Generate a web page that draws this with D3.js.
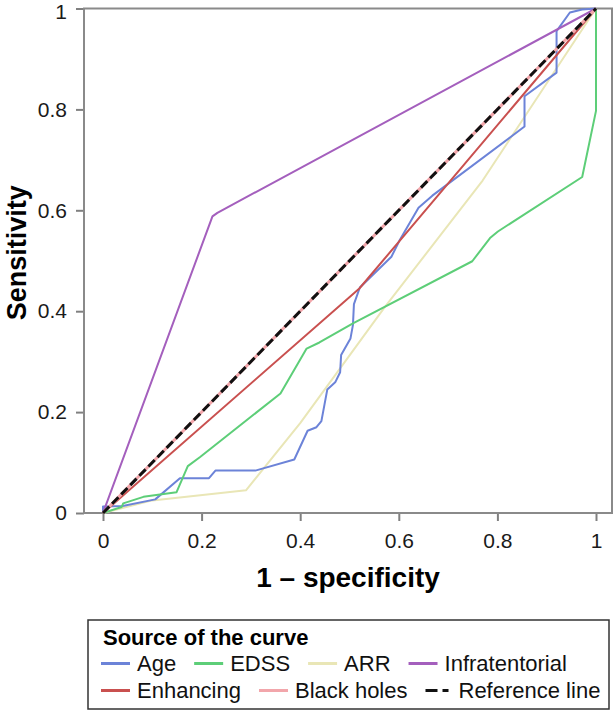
<!DOCTYPE html>
<html>
<head>
<meta charset="utf-8">
<script src="https://cdn.jsdelivr.net/npm/d3@7"></script>
<style>
  html, body { margin: 0; padding: 0; background: #fff; }
  svg { display: block; font-family: "Liberation Sans", Arial, sans-serif; }
</style>
</head>
<body>
<svg id="chart" width="616" height="713"></svg>
<script>
// ---- data ----
const xTickValues = [0, 0.2, 0.4, 0.6, 0.8, 1];
const xTickLabels = ["0", "0.2", "0.4", "0.6", "0.8", "1"];
const yTickValues = [0, 0.2, 0.4, 0.6, 0.8, 1];
const yTickLabels = ["0", "0.2", "0.4", "0.6", "0.8", "1"];

const seriesNames = ["Age", "EDSS", "ARR", "Infratentorial", "Enhancing", "Black holes", "Reference line"];
const seriesColors = ["#6c83d8", "#5dce78", "#e9e6b6", "#a45fbd", "#c9504f", "#f2a6ab", "#111111"];

const ageFPR  = [0, 0, 0.04, 0.106, 0.156, 0.215, 0.228, 0.309, 0.388, 0.415, 0.433, 0.443, 0.455, 0.471, 0.481, 0.483, 0.502, 0.507, 0.509, 0.521, 0.557, 0.585, 0.602, 0.640, 0.668, 0.855, 0.855, 0.920, 0.920, 0.947, 0.972, 1];
const ageTPR  = [0, 0.013, 0.014, 0.027, 0.069, 0.069, 0.084, 0.084, 0.106, 0.163, 0.170, 0.182, 0.245, 0.259, 0.279, 0.313, 0.346, 0.373, 0.414, 0.447, 0.481, 0.508, 0.541, 0.605, 0.629, 0.766, 0.826, 0.873, 0.955, 0.992, 0.998, 1];

const edssFPR = [0, 0.038, 0.041, 0.082, 0.149, 0.172, 0.197, 0.360, 0.413, 0.439, 0.507, 0.749, 0.785, 0.801, 0.972, 1.0, 1];
const edssTPR = [0, 0.012, 0.019, 0.032, 0.041, 0.093, 0.111, 0.237, 0.326, 0.338, 0.376, 0.499, 0.545, 0.558, 0.666, 0.797, 1];

const arrFPR  = [0, 0.1, 0.29, 0.40, 0.57, 0.77, 1];
const arrTPR  = [0, 0.025, 0.045, 0.178, 0.406, 0.659, 1];

const infraFPR = [0, 0.222, 0.232, 1];
const infraTPR = [0, 0.588, 0.595, 1];

const enhFPR  = [0, 0.52, 1];
const enhTPR  = [0, 0.445, 1];

const bhFPR   = [0, 1];
const bhTPR   = [0, 1];

const refFPR  = [0, 1];
const refTPR  = [0, 1];

// ---- layout ----
const svg = d3.select("#chart");
const frame = { left: 84, right: 612, top: 8.5, bottom: 513 };
const x = d3.scaleLinear().domain([0, 1]).range([103, 596]);
const y = d3.scaleLinear().domain([0, 1]).range([frame.bottom, frame.top]);

const zip = (a, b) => a.map((v, i) => [v, b[i]]);
const line = d3.line().x(d => x(d[0])).y(d => y(d[1]));

// axes
const xAxis = d3.axisBottom(x).tickValues(xTickValues)
  .tickFormat((d, i) => xTickLabels[i]).tickSize(8).tickSizeOuter(0).tickPadding(12);
const yAxis = d3.axisLeft(y).tickValues(yTickValues)
  .tickFormat((d, i) => yTickLabels[i]).tickSize(8).tickSizeOuter(0).tickPadding(9);

const gx = svg.append("g").attr("transform", `translate(0,${frame.bottom})`).call(xAxis);
const gy = svg.append("g").attr("transform", `translate(${frame.left},0)`).call(yAxis);
[gx, gy].forEach(g => {
  g.select(".domain").remove();
  g.selectAll(".tick line").attr("stroke", "#808080").attr("stroke-width", 2);
  g.selectAll(".tick text").attr("fill", "#1a1a1a").style("font-size", "21px")
    .style("font-family", '"Liberation Sans", Arial, sans-serif');
});
// keep the top "1" label inside the page
gy.selectAll(".tick text").filter(d => d === 1).attr("y", 3);

// frame
svg.append("rect")
  .attr("x", frame.left).attr("y", frame.top)
  .attr("width", frame.right - frame.left).attr("height", frame.bottom - frame.top)
  .attr("fill", "none").attr("stroke", "#8a8a8a").attr("stroke-width", 2);

// curves
const plotG = svg.append("g");
const curves = [
  { data: zip(arrFPR, arrTPR), c: 2, w: 2 },
  { data: zip(ageFPR, ageTPR), c: 0, w: 2 },
  { data: zip(edssFPR, edssTPR), c: 1, w: 2 },
  { data: zip(infraFPR, infraTPR), c: 3, w: 2 },
  { data: zip(enhFPR, enhTPR), c: 4, w: 2 },
  { data: zip(bhFPR, bhTPR), c: 5, w: 3 },
];
curves.forEach(s => {
  plotG.append("path").attr("d", line(s.data))
    .attr("fill", "none").attr("stroke", seriesColors[s.c])
    .attr("stroke-width", s.w).attr("stroke-linejoin", "round");
});
plotG.append("path").attr("d", line(zip(refFPR, refTPR)))
  .attr("fill", "none").attr("stroke", seriesColors[6])
  .attr("stroke-width", 3).attr("stroke-dasharray", "9,4");

// axis titles
svg.append("text").attr("x", (frame.left + frame.right) / 2).attr("y", 587)
  .attr("text-anchor", "middle").style("font-size", "28px").style("font-weight", "bold")
  .text("1 – specificity");
svg.append("text").attr("transform", `translate(26,${(frame.top + frame.bottom) / 2 - 8}) rotate(-90)`)
  .attr("text-anchor", "middle").style("font-size", "27px").style("font-weight", "bold")
  .text("Sensitivity");

// legend
const lg = svg.append("g");
lg.append("rect").attr("x", 88).attr("y", 620).attr("width", 521).attr("height", 89)
  .attr("fill", "#fff").attr("stroke", "#333").attr("stroke-width", 1.5);
lg.append("text").attr("x", 103).attr("y", 645).style("font-size", "22px")
  .style("font-weight", "bold").text("Source of the curve");

const rows = [[0, 1, 2, 3], [4, 5, 6]];
const rowY = [671, 698];
rows.forEach((r, ri) => {
  let cx = 101;
  r.forEach(idx => {
    const ly = rowY[ri] - 7.5;
    const l = lg.append("line").attr("x1", cx).attr("x2", cx + (idx === 6 ? 23 : 29))
      .attr("y1", ly).attr("y2", ly).attr("stroke", seriesColors[idx]).attr("stroke-width", 3);
    if (idx === 6) l.attr("stroke-dasharray", "12,5");
    const tx = cx + (idx === 6 ? 33 : 36);
    const t = lg.append("text").attr("x", tx).attr("y", rowY[ri])
      .style("font-size", "22px").attr("fill", "#111").text(seriesNames[idx]);
    cx = tx + t.node().getComputedTextLength() + 18;
  });
});
</script>
</body>
</html>
